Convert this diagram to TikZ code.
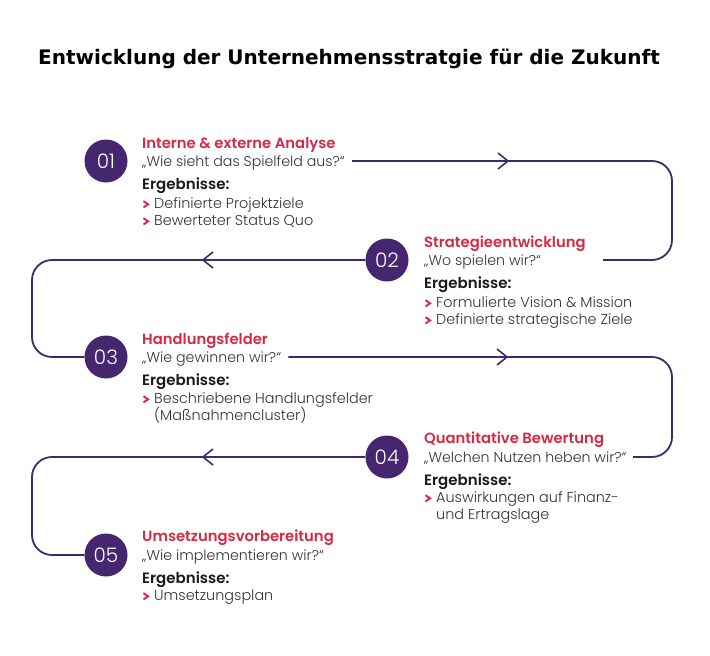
\documentclass[tikz,border=0pt]{standalone}
\usepackage{fontspec}
\setmainfont{Poppins}[UprightFont=* Light, BoldFont=* SemiBold]
\newfontfamily\titlefont{DejaVu Sans}
\usetikzlibrary{calc}
\definecolor{lila}{HTML}{3F2A6E}
\definecolor{circ}{HTML}{45266F}
\definecolor{rot}{HTML}{D42A45}
\definecolor{grau}{HTML}{333333}
\definecolor{dunkel}{HTML}{1A1A1A}
\begin{document}
\begin{tikzpicture}[x=1pt,y=-1pt,
  num/.style={circle, fill=circ, minimum size=43pt, inner sep=0pt, text=white, font=\fontsize{20}{20}\selectfont},
  head/.style={anchor=base west, inner sep=0pt, text=rot, font=\bfseries\fontsize{14.8}{16}\selectfont},
  quote/.style={anchor=base west, inner sep=0pt, text=grau, font=\fontsize{14.2}{16}\selectfont},
  erg/.style={anchor=base west, inner sep=0pt, text=dunkel, font=\bfseries\fontsize{15}{16}\selectfont},
  item/.style={anchor=base west, inner sep=0pt, text=grau, font=\fontsize{14.4}{16}\selectfont},
  bullet/.style={draw=rot, line width=1.9pt},
  flow/.style={draw=lila, line width=1.8pt, rounded corners=20pt},
  chev/.style={draw=lila, line width=1.6pt}]
\fill[white] (0,0) rectangle (710,656);
\useasboundingbox (0,0) rectangle (710,656);

\node[anchor=base west, inner sep=0pt, font=\titlefont\bfseries\fontsize{20}{22}\selectfont] (title) at (38,64) {Entwicklung der Unternehmensstratgie für die Zukunft};

% step 1
\node[num] (c1) at (106,161) {01};
\node[head] (h1) at (142,148) {Interne \& externe Analyse};
\node[quote] (q1) at (142,166) {„Wie sieht das Spielfeld aus?“};
\node[erg] (r1) at (142,189) {Ergebnisse:};
\node[item] (i1a) at (154,208) {Definierte Projektziele};
\node[item] (i1b) at (154,225) {Bewerteter Status Quo};

% step 2
\node[num] (c2) at (387,260) {02};
\node[head] (h2) at (424,247) {Strategieentwicklung};
\node[quote] (q2) at (424,265) {„Wo spielen wir?“};
\node[erg] (r2) at (424,288) {Ergebnisse:};
\node[item] (i2a) at (436,307) {Formulierte Vision \& Mission};
\node[item] (i2b) at (436,324) {Definierte strategische Ziele};

% step 3
\node[num] (c3) at (106,357) {03};
\node[head] (h3) at (142,344) {Handlungsfelder};
\node[quote] (q3) at (142,362) {„Wie gewinnen wir?“};
\node[erg] (r3) at (142,385) {Ergebnisse:};
\node[item] (i3a) at (154,403) {Beschriebene Handlungsfelder};
\node[item] (i3b) at (154,420) {(Maßnahmencluster)};

% step 4
\node[num] (c4) at (387,457) {04};
\node[head] (h4) at (424,443) {Quantitative Bewertung};
\node[quote] (q4) at (424,462) {„Welchen Nutzen heben wir?“};
\node[erg] (r4) at (424,485) {Ergebnisse:};
\node[item] (i4a) at (436,502) {Auswirkungen auf Finanz-};
\node[item] (i4b) at (436,519) {und Ertragslage};

% step 5
\node[num] (c5) at (106,555) {05};
\node[head] (h5) at (142,541) {Umsetzungsvorbereitung};
\node[quote] (q5) at (142,560) {„Wie implementieren wir?“};
\node[erg] (r5) at (142,583) {Ergebnisse:};
\node[item] (i5a) at (154,600) {Umsetzungsplan};

% bullets
\foreach \n in {i1a,i1b,i2a,i2b,i3a,i4a,i5a}{
  \draw[bullet] ($(\n.base west)+(-10.5,-6.8)$) -- ++(4.6,3.1) -- ++(-4.6,3.1);
}

% connectors
\coordinate (s1) at ($(q1.base east)+(7,-5)$);
\coordinate (R1) at (672,161);
\coordinate (e1) at (603,260);
\draw[flow] (s1) -- (R1) |- (e1);
\draw[chev] (498,153) -- (508,161) -- (498,169);

\coordinate (L1) at (32,260);
\draw[flow] (c2.west) -- (L1) |- (c3.west);
\draw[chev] (213,252) -- (203,260) -- (213,268);

\coordinate (s3) at ($(q3.base east)+(7,-5)$);
\coordinate (R3) at (672,357);
\coordinate (e3) at (633,457);
\draw[flow] (s3) -- (R3) |- (e3);
\draw[chev] (497,349) -- (507,357) -- (497,365);

\coordinate (L3) at (32,457);
\draw[flow] (c4.west) -- (L3) |- (c5.west);
\draw[chev] (213,449) -- (203,457) -- (213,465);
\end{tikzpicture}
\end{document}
